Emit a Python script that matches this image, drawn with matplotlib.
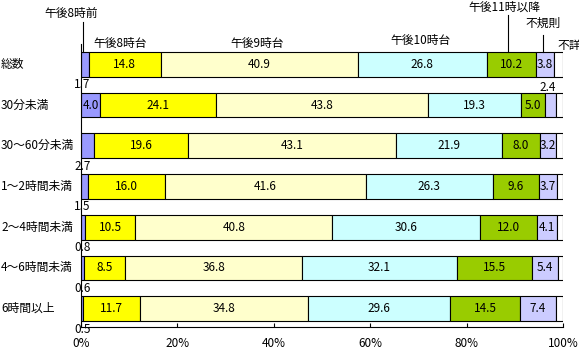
import numpy as np
import matplotlib
matplotlib.use("Agg")
import matplotlib.pyplot as plt

plt.rcParams['font.family'] = ['Noto Sans CJK JP', 'DejaVu Sans']

# データ
categories = ["総数", "30分未満", "30～60分未満", "1～2時間未満",
              "2～4時間未満", "4～6時間未満", "6時間以上"]
series_names = ["午後8時前", "午後8時台", "午後9時台", "午後10時台",
                "午後11時以降", "不規則", "不詳"]
before8 = [1.7, 4.0, 2.7, 1.5, 0.8, 0.6, 0.5]
at8 = [14.8, 24.1, 19.6, 16.0, 10.5, 8.5, 11.7]
at9 = [40.9, 43.8, 43.1, 41.6, 40.8, 36.8, 34.8]
at10 = [26.8, 19.3, 21.9, 26.3, 30.6, 32.1, 29.6]
after11 = [10.2, 5.0, 8.0, 9.6, 12.0, 15.5, 14.5]
irregular = [3.8, 2.4, 3.2, 3.7, 4.1, 5.4, 7.4]
unknown = [1.8, 1.4, 1.5, 1.3, 1.2, 1.1, 1.5]

colors = ["#9999FF", "#FFFF00", "#FFFFCC", "#CCFFFF", "#99CC00", "#CCCCFF", "#FFFFFF"]

data = np.array([before8, at8, at9, at10, after11, irregular, unknown])
y = np.arange(len(categories))
fs = 8.5

fig = plt.figure(figsize=(5.79, 3.49), dpi=100)
ax = fig.add_axes([81 / 579, 1 - 327 / 349, 482 / 579, 283 / 349])

left = np.zeros(len(categories))
for k, vals in enumerate(data):
    ax.barh(y, vals, left=left, height=0.61, color=colors[k],
            edgecolor="black", linewidth=0.8)
    for i, v in enumerate(vals):
        if k == 6:
            continue
        if v < 3:
            if k == 0:
                ax.text(0.3, i + 0.5, f"{v:.1f}", ha="center", va="center", fontsize=fs)
            else:
                ax.text(left[i] + v / 2 - 0.5, i - 0.42, f"{v:.1f}", ha="center",
                        va="center", fontsize=fs)
        else:
            ax.text(left[i] + v / 2, i, f"{v:.1f}", ha="center", va="center", fontsize=fs)
    left += vals

ax.set_xlim(0, 100)
ax.set_ylim(6.45, -0.5)
ax.set_yticks([])
ax.set_xticks(np.arange(0, 101, 20))
ax.set_xticklabels([f"{t}%" for t in range(0, 101, 20)], fontsize=fs)
ax.tick_params(axis="x", direction="in", length=3, pad=7)
ax.spines["top"].set_visible(False)
ax.spines["right"].set_visible(False)

for i, name in enumerate(categories):
    ax.text(-80 / 482, i, name, transform=ax.get_yaxis_transform(),
            ha="left", va="center", fontsize=fs)

# 系列名と引き出し線
lk = dict(color="black", lw=0.8, clip_on=False)
ax.text(-2.1, -1.41, series_names[0], ha="center", va="top", fontsize=fs)
ax.plot([0.4, 0.4], [-1.03, -0.31], **lk)
ax.text(8.1, -0.67, series_names[1], ha="center", va="top", fontsize=fs)
ax.text(36.6, -0.67, series_names[2], ha="center", va="top", fontsize=fs)
ax.text(70.5, -0.75, series_names[3], ha="center", va="top", fontsize=fs)
ax.text(87.8, -1.56, series_names[4], ha="center", va="top", fontsize=fs)
ax.plot([88.6, 88.6], [-1.2, -0.31], **lk)
ax.text(95.8, -1.16, series_names[5], ha="center", va="top", fontsize=fs)
ax.plot([95.8, 95.8], [-0.72, -0.31], **lk)
ax.text(101.2, -0.62, series_names[6], ha="center", va="top", fontsize=fs)

fig.savefig("out.png", dpi=100)
